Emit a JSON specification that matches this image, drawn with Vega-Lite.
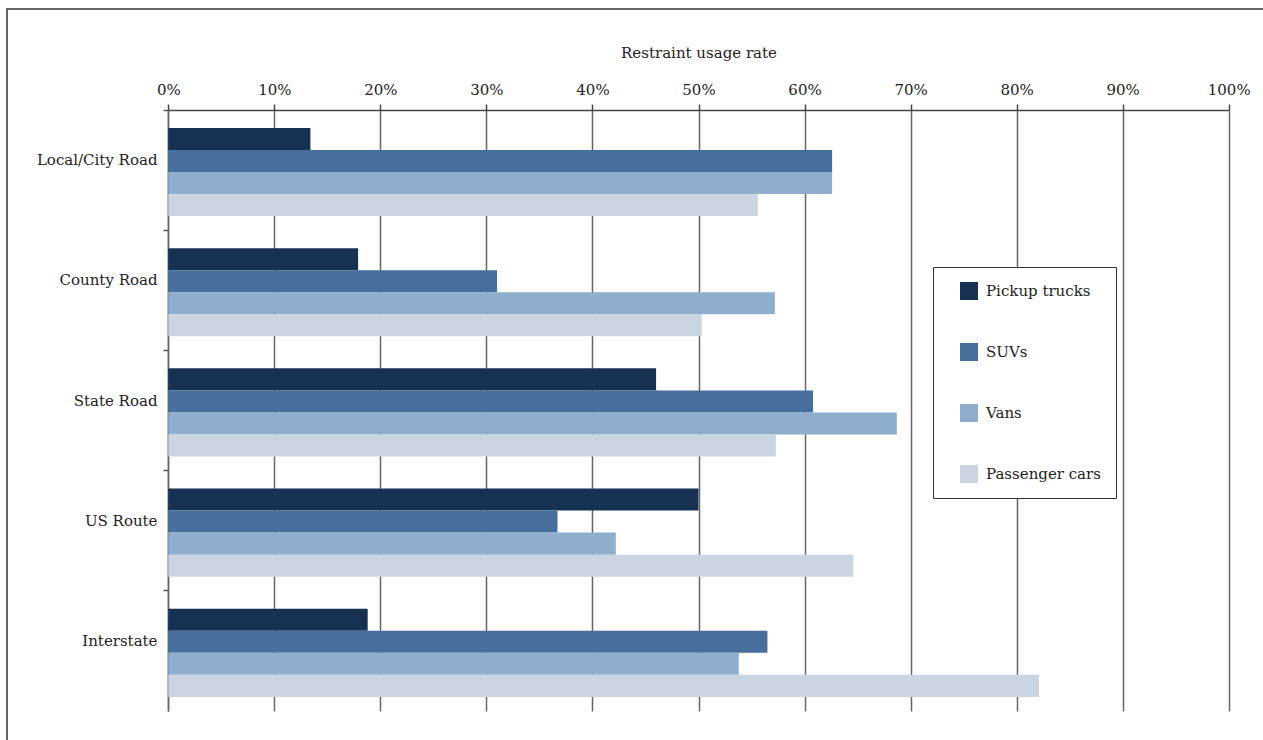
{
  "$schema": "https://vega.github.io/schema/vega-lite/v6.json",
  "autosize": {"type": "none"},
  "padding": {"left": 7, "top": 9, "right": 0, "bottom": 0},
  "width": 1262,
  "height": 737,
  "background": "white",
  "config": {
    "view": {"stroke": "#666", "strokeWidth": 2},
    "font": "DejaVu Serif"
  },
  "data": {
    "values": [
      {"road": "Local/City Road", "vehicle": "Pickup trucks", "rate": 13.4},
      {"road": "Local/City Road", "vehicle": "SUVs", "rate": 62.6},
      {"road": "Local/City Road", "vehicle": "Vans", "rate": 62.6},
      {"road": "Local/City Road", "vehicle": "Passenger cars", "rate": 55.6},
      {"road": "County Road", "vehicle": "Pickup trucks", "rate": 17.9},
      {"road": "County Road", "vehicle": "SUVs", "rate": 31.0},
      {"road": "County Road", "vehicle": "Vans", "rate": 57.2},
      {"road": "County Road", "vehicle": "Passenger cars", "rate": 50.3},
      {"road": "State Road", "vehicle": "Pickup trucks", "rate": 46.0},
      {"road": "State Road", "vehicle": "SUVs", "rate": 60.8},
      {"road": "State Road", "vehicle": "Vans", "rate": 68.7},
      {"road": "State Road", "vehicle": "Passenger cars", "rate": 57.3},
      {"road": "US Route", "vehicle": "Pickup trucks", "rate": 50.0},
      {"road": "US Route", "vehicle": "SUVs", "rate": 36.7},
      {"road": "US Route", "vehicle": "Vans", "rate": 42.2},
      {"road": "US Route", "vehicle": "Passenger cars", "rate": 64.6},
      {"road": "Interstate", "vehicle": "Pickup trucks", "rate": 18.8},
      {"road": "Interstate", "vehicle": "SUVs", "rate": 56.5},
      {"road": "Interstate", "vehicle": "Vans", "rate": 53.8},
      {"road": "Interstate", "vehicle": "Passenger cars", "rate": 82.1}
    ]
  },
  "mark": {"type": "bar"},
  "encoding": {
    "y": {
      "field": "road",
      "type": "nominal",
      "sort": ["Local/City Road", "County Road", "State Road", "US Route", "Interstate"],
      "scale": {"range": [101, 702], "paddingInner": 0, "paddingOuter": 0},
      "axis": {
        "orient": "left",
        "offset": -161,
        "bandPosition": 0,
        "title": null,
        "grid": false,
        "domain": true,
        "domainColor": "#666",
        "domainWidth": 1.5,
        "ticks": true,
        "tickSize": 5,
        "tickColor": "#555",
        "tickWidth": 1.5,
        "labelOffset": -10,
        "labelPadding": 6,
        "labelFontSize": 15,
        "labelColor": "#222",
        "labelFont": "DejaVu Serif"
      }
    },
    "yOffset": {
      "field": "vehicle",
      "sort": ["Pickup trucks", "SUVs", "Vans", "Passenger cars"],
      "scale": {"paddingInner": 0, "paddingOuter": 0.727, "align": 0.56}
    },
    "x": {
      "field": "rate",
      "type": "quantitative",
      "scale": {"domain": [0, 100], "range": [161.3, 1221.7], "nice": false},
      "axis": {
        "orient": "top",
        "offset": -101,
        "values": [0, 10, 20, 30, 40, 50, 60, 70, 80, 90, 100],
        "labelExpr": "datum.value + '%'",
        "labelFlush": false,
        "labelOverlap": false,
        "grid": true,
        "gridColor": "#666",
        "gridWidth": 1.5,
        "domainColor": "#444",
        "domainWidth": 1.5,
        "tickColor": "#444",
        "tickWidth": 1.5,
        "tickSize": 6,
        "labelPadding": 7,
        "labelFontSize": 15,
        "labelColor": "#222",
        "labelFont": "DejaVu Serif",
        "title": "Restraint usage rate",
        "titleFont": "DejaVu Serif",
        "titleFontSize": 15,
        "titleFontWeight": "normal",
        "titleColor": "#222",
        "titlePadding": 22
      }
    },
    "color": {
      "field": "vehicle",
      "type": "nominal",
      "sort": ["Pickup trucks", "SUVs", "Vans", "Passenger cars"],
      "scale": {
        "domain": ["Pickup trucks", "SUVs", "Vans", "Passenger cars"],
        "range": ["#163152", "#466f9b", "#8fadcc", "#cad5e1"]
      },
      "legend": {
        "orient": "none",
        "legendX": 926,
        "legendY": 258,
        "title": null,
        "strokeColor": "#333",
        "fillColor": "white",
        "padding": 15,
        "symbolType": "square",
        "symbolSize": 324,
        "symbolOffset": 12,
        "symbolStrokeWidth": 0,
        "rowPadding": 43,
        "labelFontSize": 15,
        "labelFont": "DejaVu Serif",
        "labelColor": "#222",
        "labelOffset": 8
      }
    }
  }
}
